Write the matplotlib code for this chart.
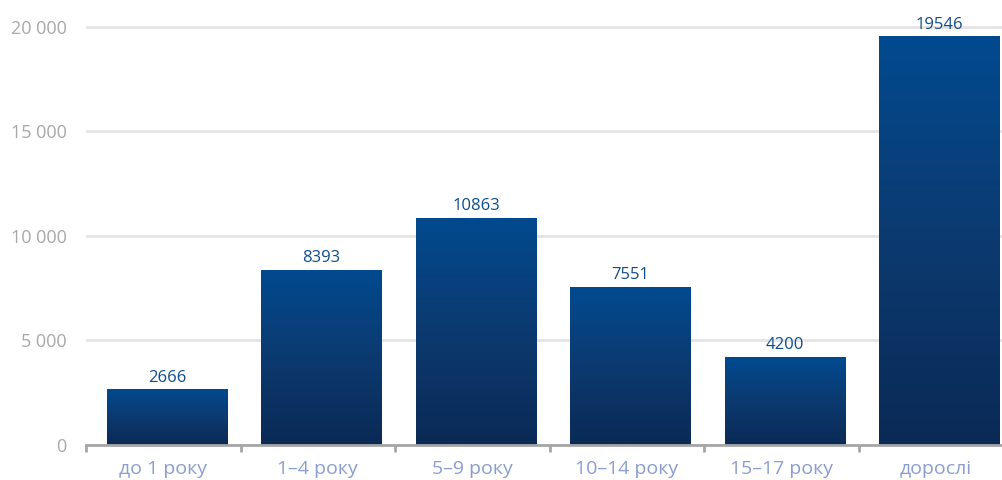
import numpy as np
import matplotlib
matplotlib.use("Agg")
import matplotlib.pyplot as plt
from matplotlib.colors import LinearSegmentedColormap
from matplotlib.ticker import FuncFormatter, FixedLocator

plt.rcParams["font.family"] = ["Open Sans", "DejaVu Sans"]

categories = ["до 1 року", "1–4 року", "5–9 року", "10–14 року", "15–17 року", "дорослі"]
values = [2666, 8393, 10863, 7551, 4200, 19546]
yticks = [0, 5000, 10000, 15000, 20000]

W, H = 1003, 480
fig = plt.figure(figsize=(W / 100, H / 100), dpi=100)
# axis runs a little past the right edge of the canvas
left, right, bottom, top = 86, 1013, 35, 474
ax = fig.add_axes([left / W, bottom / H, (right - left) / W, (top - bottom) / H])

x = np.arange(len(categories))
bar_w = 0.78
shift = 0.025
cmap = LinearSegmentedColormap.from_list("bar", ["#0a2a55", "#0c3a70", "#014a8f"])
grad = np.linspace(0, 1, 256).reshape(-1, 1)

bars = ax.bar(x + shift, values, width=bar_w, color="none", zorder=3)
for b, v in zip(bars, values):
    x0 = b.get_x()
    im = ax.imshow(grad, cmap=cmap, aspect="auto", origin="lower",
                   extent=[x0, x0 + bar_w, 0, v], zorder=3)
    im.set_clip_path(b)
    ax.text(x0 + bar_w / 2, v + 180, str(v), ha="center", va="bottom",
            fontsize=12, color="#0f4c8c", zorder=4)

ax.set_xlim(-0.5, len(categories) - 0.5)
ax.set_ylim(0, 21000)

ax.set_yticks(yticks)
ax.yaxis.set_major_formatter(FuncFormatter(lambda v, p: f"{int(v):,}".replace(",", " ")))
ax.tick_params(axis="y", length=0, pad=14, labelsize=13, labelcolor="#a8a8a8")
ax.grid(axis="y", color="#e4e4e4", linewidth=2, zorder=0)

ax.set_xticks(x)
ax.set_xticklabels(categories)
ax.xaxis.set_minor_locator(FixedLocator(np.arange(len(categories)) - 0.5))
ax.tick_params(axis="x", which="major", length=0, pad=11, labelsize=14, labelcolor="#8a9dcf")
ax.tick_params(axis="x", which="minor", length=5, width=2, color="#a6a6a6", direction="out")

for side in ["top", "right", "left"]:
    ax.spines[side].set_visible(False)
ax.spines["bottom"].set_color("#a6a6a6")
ax.spines["bottom"].set_linewidth(2)
ax.spines["bottom"].set_zorder(5)

fig.savefig("out.png", dpi=100)
